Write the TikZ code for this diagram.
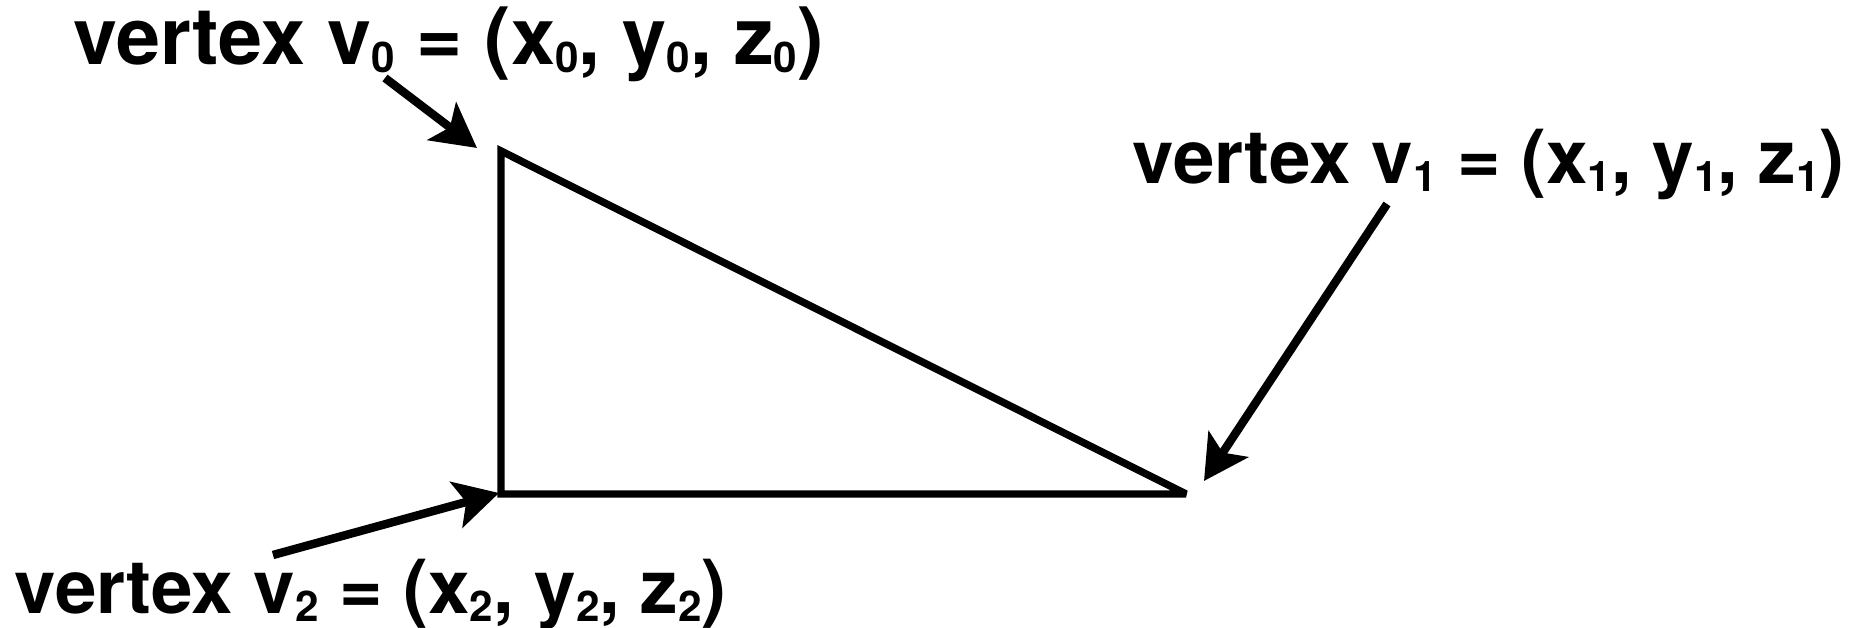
\documentclass[tikz,border=0pt]{standalone}
\usepackage{fontspec}
\setmainfont{TeX Gyre Heros}
\usetikzlibrary{arrows.meta}
\newcommand{\sub}[1]{\raisebox{-0.1em}{\fontsize{12}{12}\selectfont #1}}
\begin{document}
\begin{tikzpicture}[x=0.01cm,y=-0.01cm,
  lbl/.style={anchor=base west,inner sep=0pt,font=\fontsize{21.2}{21.2}\selectfont\bfseries},
  pointer/.style={-{Stealth[length=0.44cm,width=0.47cm,inset=0.1cm]},line width=2.4pt}]
  \useasboundingbox (0,0) rectangle (1859,628);
  % triangle
  \coordinate (v0) at (501,151);
  \coordinate (v1) at (1186,494);
  \coordinate (v2) at (501,494);
  \draw[line width=2.1pt,miter limit=4] (v0) -- (v1) -- (v2) -- cycle;
  % labels
  \node[lbl,font=\fontsize{22.5}{22.5}\selectfont\bfseries] (l0) at (73,65)
    {vertex v\sub0 = (x\sub0, y\sub0, z\sub0)};
  \node[lbl] (l1) at (1132,184) {vertex v\sub1 = (x\sub1, y\sub1, z\sub1)};
  \node[lbl] (l2) at (14,614) {vertex v\sub2 = (x\sub2, y\sub2, z\sub2)};
  % pointers
  \coordinate (t0) at (385,78);
  \coordinate (h0) at (477,148);
  \coordinate (t1) at (1387,204);
  \coordinate (h1) at (1204,481);
  \coordinate (t2) at (273,555);
  \coordinate (h2) at (499,493);
  \draw[pointer] (t0) -- (h0);
  \draw[pointer] (t1) -- (h1);
  \draw[pointer] (t2) -- (h2);
\end{tikzpicture}
\end{document}
